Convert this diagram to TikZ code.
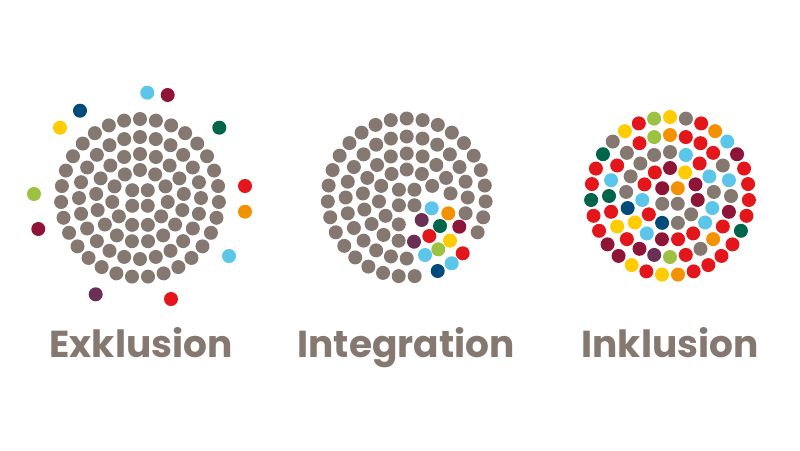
\documentclass[tikz,border=0pt]{standalone}
\usepackage{fontspec}
\setmainfont{Poppins}
\definecolor{dgray}{HTML}{857870}
\definecolor{lblue}{HTML}{5BC5EA}
\definecolor{maroon}{HTML}{8E1538}
\definecolor{navy}{HTML}{004B7C}
\definecolor{cyellow}{HTML}{FFCC00}
\definecolor{dgreen}{HTML}{00654A}
\definecolor{cred}{HTML}{E3161B}
\definecolor{corange}{HTML}{F39200}
\definecolor{lgreen}{HTML}{9DC241}
\definecolor{cpurple}{HTML}{6B2E55}
\tikzset{
  dotfill/.style={fill=#1,draw=none},
  label text/.style={font=\bfseries\fontsize{37.5}{40}\selectfont,text=dgray,anchor=base,inner sep=0pt}
}
\newcommand\dotrings[3]{%
  \foreach \r/\n/\a in {79/31/90,61/24/90,44/17/90,28/11/90,11/4/45}{
    \foreach \k in {1,...,\n}{
      \pgfmathsetmacro\px{#1+\r*cos(\a+360*\k/\n)}
      \pgfmathsetmacro\py{#2-\r*sin(\a+360*\k/\n)}
      #3
    }}}
\def\intcols{431.7/208.3/lblue,448.3/213.3/corange,421.7/220/cpurple,440/226/dgreen,459.3/226.7/maroon,414/241.7/cpurple,429.3/236/cred,450/240.7/cyellow,438.3/249.3/lgreen,462.7/253.3/cred,425/255/lblue,451.7/263.3/lblue,437.7/271/navy}
\pgfmathdeclarerandomlist{mix}{{cred}{cred}{cred}{cred}{cred}{cred}{cred}{cred}{dgray}{dgray}{dgray}{cyellow}{cyellow}{lblue}{lblue}{lgreen}{lgreen}{corange}{corange}{maroon}{maroon}{navy}{dgreen}{cpurple}}
\begin{document}
\begin{tikzpicture}[x=1pt,y=-1pt]
\useasboundingbox[fill=white] (0,0) rectangle (800,450);
% Exklusion
\dotrings{140}{198}{\fill[dotfill=dgray] (\px,\py) circle[radius=7];}
\foreach \x/\y/\c in {147.3/92.7/lblue,167.7/95/maroon,80/110.7/navy,60/127.7/cyellow,219.3/127.7/dgreen,245/186/cred,245/211.7/corange,34/194/lgreen,38.3/229/maroon,229/256/lblue,95.7/294.3/cpurple,171/299/cred}
  {\fill[dotfill=\c] (\x,\y) circle[radius=7];}
% Integration
\dotrings{406.7}{197.5}{%
  \gdef\hit{0}%
  \foreach \cx/\cy/\cc in \intcols {%
    \pgfmathparse{veclen(\px-\cx,\py-\cy)<12 ? 1 : 0}%
    \ifnum\pgfmathresult=1 \gdef\hit{1}\fi}%
  \ifnum\hit=0 \fill[dotfill=dgray] (\px,\py) circle[radius=7];\fi}
\foreach \x/\y/\c in \intcols {\fill[dotfill=\c] (\x,\y) circle[radius=7];}
% Inklusion
\pgfmathsetseed{11}
\dotrings{670}{196}{\pgfmathrandomitem{\cc}{mix}\fill[dotfill=\cc] (\px,\py) circle[radius=7];}
% labels
\node[label text] (ex) at (141,357) {Exklusion};
\node[label text] (in) at (406,357) {Integration};
\node[label text] (ink) at (670,357) {Inklusion};
\end{tikzpicture}
\end{document}
